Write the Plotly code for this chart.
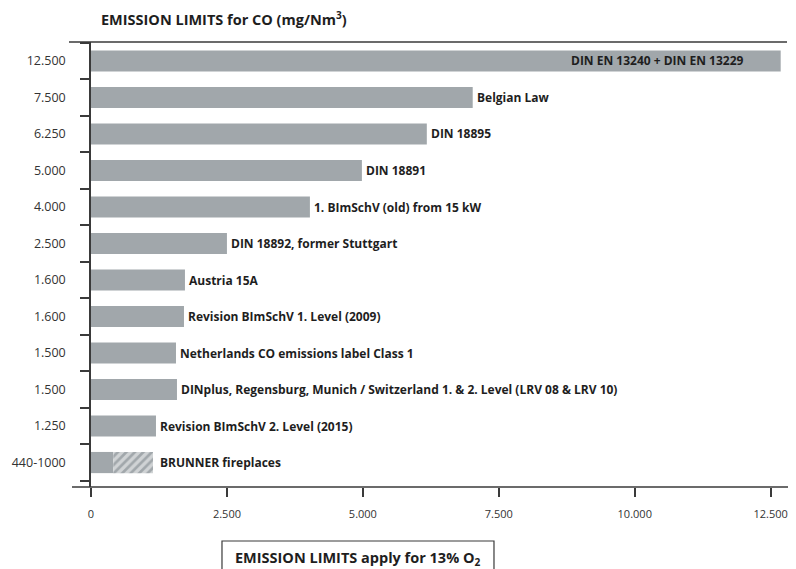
import plotly.graph_objects as go

# ---- data ----
standards = [
    "DIN EN 13240 + DIN EN 13229",
    "Belgian Law",
    "DIN 18895",
    "DIN 18891",
    "1. BImSchV (old) from 15 kW",
    "DIN 18892, former Stuttgart",
    "Austria 15A",
    "Revision BImSchV 1. Level (2009)",
    "Netherlands CO emissions label Class 1",
    "DINplus, Regensburg, Munich / Switzerland 1. & 2. Level (LRV 08 & LRV 10)",
    "Revision BImSchV 2. Level (2015)",
    "BRUNNER fireplaces",
]
limit_labels = ["12.500", "7.500", "6.250", "5.000", "4.000", "2.500",
                "1.600", "1.600", "1.500", "1.500", "1.250", "440-1000"]
# drawn bar lengths (mg/Nm3)
bar_lengths = [12684, 7020, 6176, 4982, 4026, 2500, 1728, 1710, 1563, 1581, 1195, 410]
brunner_low = 410
brunner_high = 1140
x_ticks = [0, 2500, 5000, 7500, 10000, 12500]
x_tick_text = ["0", "2.500", "5.000", "7.500", "10.000", "12.500"]

BAR = "#a1a7ab"
TXT = "#1e1e1e"
AX = "#3a3a3a"
FONT = "Open Sans"

fig = go.Figure()
fig.add_trace(go.Bar(
    x=bar_lengths, y=standards, orientation="h",
    marker=dict(color=BAR, line=dict(width=0)),
    hoverinfo="skip", showlegend=False,
))
fig.add_trace(go.Bar(
    x=[brunner_high - brunner_low], y=[standards[-1]], base=[brunner_low],
    orientation="h",
    marker=dict(color=BAR, line=dict(width=0),
                pattern=dict(shape="/", fgcolor="white", bgcolor=BAR,
                             size=6, solidity=0.55)),
    hoverinfo="skip", showlegend=False,
))

ends = bar_lengths[:-1] + [brunner_high]
for i, (name, end) in enumerate(zip(standards, ends)):
    if i == 0:
        fig.add_annotation(x=end, y=name, text="<b>%s</b>" % name, showarrow=False,
                           xanchor="right", xshift=-36,
                           font=dict(family=FONT, size=12, color=TXT))
    else:
        fig.add_annotation(x=end, y=name, text="<b>%s</b>" % name, showarrow=False,
                           xanchor="left", xshift=2 if i < len(standards) - 1 else 5,
                           font=dict(family=FONT, size=12, color=TXT))

# title
fig.add_annotation(xref="paper", yref="paper", x=0.012, y=1.052,
                   text="<b>EMISSION LIMITS for CO (mg/Nm<sup>3</sup>)</b>",
                   showarrow=False, xanchor="left", yanchor="middle",
                   font=dict(family=FONT, size=14.5, color=TXT))
# bottom note box
fig.add_shape(type="rect", xref="paper", yref="paper",
              x0=0.1882, x1=0.579, y0=-0.1213, y1=-0.22,
              line=dict(color=AX, width=1.2), fillcolor="white", layer="above")
fig.add_annotation(xref="paper", yref="paper", x=0.3836, y=-0.1596,
                   text="<b>EMISSION LIMITS apply for 13% O<sub>2</sub></b>",
                   showarrow=False, xanchor="center", yanchor="middle",
                   font=dict(family=FONT, size=14.5, color=TXT))
# extended top and bottom rules
fig.add_shape(type="line", xref="paper", yref="paper", x0=-0.0316, x1=1.0,
              y0=1.0, y1=1.0, line=dict(color=AX, width=1.5))
fig.add_shape(type="line", xref="paper", yref="paper", x0=-0.0273, x1=1.0043,
              y0=0.0, y1=0.0, line=dict(color=AX, width=1.5))

fig.update_layout(
    width=796, height=569,
    margin=dict(l=83, r=17, t=34, b=90, autoexpand=False),
    paper_bgcolor="white", plot_bgcolor="white",
    barmode="overlay", bargap=0.42,
    font=dict(family=FONT, color="#333333"),
    xaxis=dict(range=[0, 12800], tickvals=x_ticks, ticktext=x_tick_text,
               automargin=False,
               showgrid=False, zeroline=False, showline=False,
               ticks="outside", ticklen=9, tickwidth=1.5, tickcolor=AX,
               ticklabelstandoff=8,
               tickfont=dict(family=FONT, size=11, color="#333333")),
    yaxis=dict(type="category", categoryorder="array", categoryarray=standards,
               autorange=False, range=[11.67, -0.52], automargin=False,
               tickmode="array", tickvals=standards, ticktext=limit_labels,
               tickson="boundaries",
               showgrid=False, zeroline=False, showline=True,
               linecolor=AX, linewidth=1.5,
               ticks="outside", ticklen=9, tickwidth=1.5, tickcolor=AX,
               ticklabelstandoff=21,
               tickfont=dict(family=FONT, size=12.5, color="#333333")),
)

fig.write_html("out.html")
